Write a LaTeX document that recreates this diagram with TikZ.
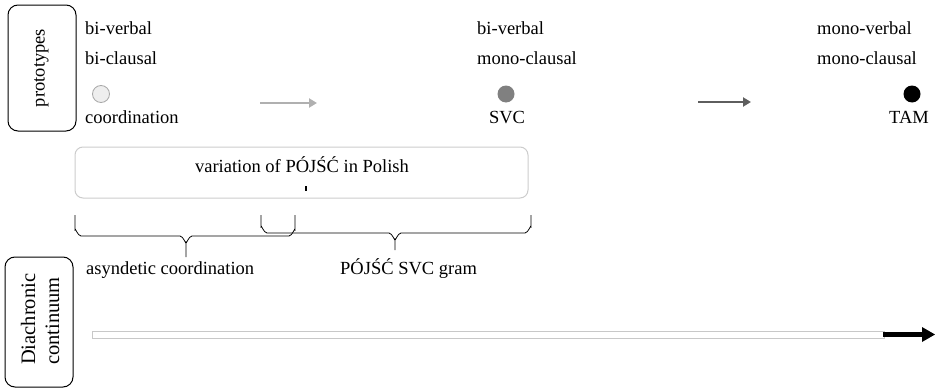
\documentclass[tikz,border=0pt]{standalone}
\usepackage{fontspec}
\setmainfont{Liberation Serif}
\usetikzlibrary{arrows.meta}
\definecolor{boxgray}{HTML}{CCCCCC}
\definecolor{lightdot}{HTML}{EEEEEE}
\definecolor{lightedge}{HTML}{A8A8A8}
\definecolor{middot}{HTML}{808080}
\definecolor{arrowlight}{HTML}{B0B0B0}
\definecolor{arrowdark}{HTML}{5E5E5E}
\definecolor{baredge}{HTML}{C8C8C8}
\begin{document}
\begin{tikzpicture}[x=1pt,y=-1pt,
  every node/.style={inner sep=0pt, font=\fontsize{18.5}{22}\selectfont,
    text height=0.7em, text depth=0.2em},
  sidebox/.style={draw=black, line width=1pt, rounded corners=10pt},
  lbl/.style={anchor=west},
  dot/.style={circle, minimum size=17pt, text height=, text depth=},
  stage/.style={line width=2pt, -{Triangle[length=8pt,width=9pt]}},
  bracket/.style={draw=black, line width=0.8pt}
]
\clip (0,0) rectangle (935,388);

% side labels
\draw[sidebox] (8,5) rectangle (76,131);
\node[rotate=90] (proto) at (42,68) {prototypes};
\draw[sidebox] (5,257) rectangle (73,387);
\node[rotate=90, anchor=west, align=left, text height=, text depth=,
  font=\fontsize{20.5}{24}\selectfont] (diachr) at (40,365)
  {Diachronic\\continuum};

% three prototypes
\node[lbl] (c1a) at (85,32) {bi-verbal};
\node[lbl] (c1b) at (85,62) {bi-clausal};
\node[dot, draw=lightedge, fill=lightdot, line width=0.8pt] (d1) at (101,94) {};
\node[lbl] (c1c) at (85,121) {coordination};

\node[lbl] (c2a) at (477,32) {bi-verbal};
\node[lbl] (c2b) at (477,62) {mono-clausal};
\node[dot, fill=middot] (d2) at (506,94) {};
\node (c2c) at (507,121) {SVC};

\node[lbl] (c3a) at (817,32) {mono-verbal};
\node[lbl] (c3b) at (817,62) {mono-clausal};
\node[dot, fill=black] (d3) at (912,94) {};
\node (c3c) at (909,121) {TAM};

% transitions between prototypes
\coordinate (a1s) at (260,103);
\coordinate (a1e) at (317,103);
\draw[stage, arrowlight] (a1s) -- (a1e);
\coordinate (a2s) at (698,102);
\coordinate (a2e) at (751,102);
\draw[stage, arrowdark] (a2s) -- (a2e);

% variation box
\draw[boxgray, line width=1pt, rounded corners=8pt] (75,147) rectangle (528,198);
\node (var) at (302,170) {variation of PÓJŚĆ in Polish};
\coordinate (tk1) at (306,186);
\coordinate (tk2) at (306,191);
\draw[line width=1.3pt] (tk1) -- (tk2);

% braces
\draw[bracket] (75,215) -- (75,230) to[out=90,in=180] (81,236) -- (180,236)
  to[out=0,in=-90] (186,242) -- (186,257);
\draw[bracket] (186,242) to[out=-90,in=180] (192,236) -- (289,236)
  to[out=0,in=90] (295,230) -- (295,215);
\draw[bracket] (261,215) -- (261,227) to[out=90,in=180] (267,233) -- (389,233)
  to[out=0,in=-90] (395,239) -- (395,250);
\draw[bracket] (395,239) to[out=-90,in=180] (401,233) -- (525,233)
  to[out=0,in=90] (531,227) -- (531,215);

\node[lbl] (asyn) at (86,272) {asyndetic coordination};
\node[lbl] (gram) at (340,272) {PÓJŚĆ SVC gram};

% diachronic axis
\draw[baredge, fill=white, line width=1pt] (92,331) rectangle (884,338);
\fill[black] (883,332) rectangle (923,337);
\coordinate (tipbase) at (922,334.5);
\coordinate (tip) at (935,334.5);
\fill[black] (922,327) -- (tip) -- (922,342) -- cycle;
\end{tikzpicture}
\end{document}
